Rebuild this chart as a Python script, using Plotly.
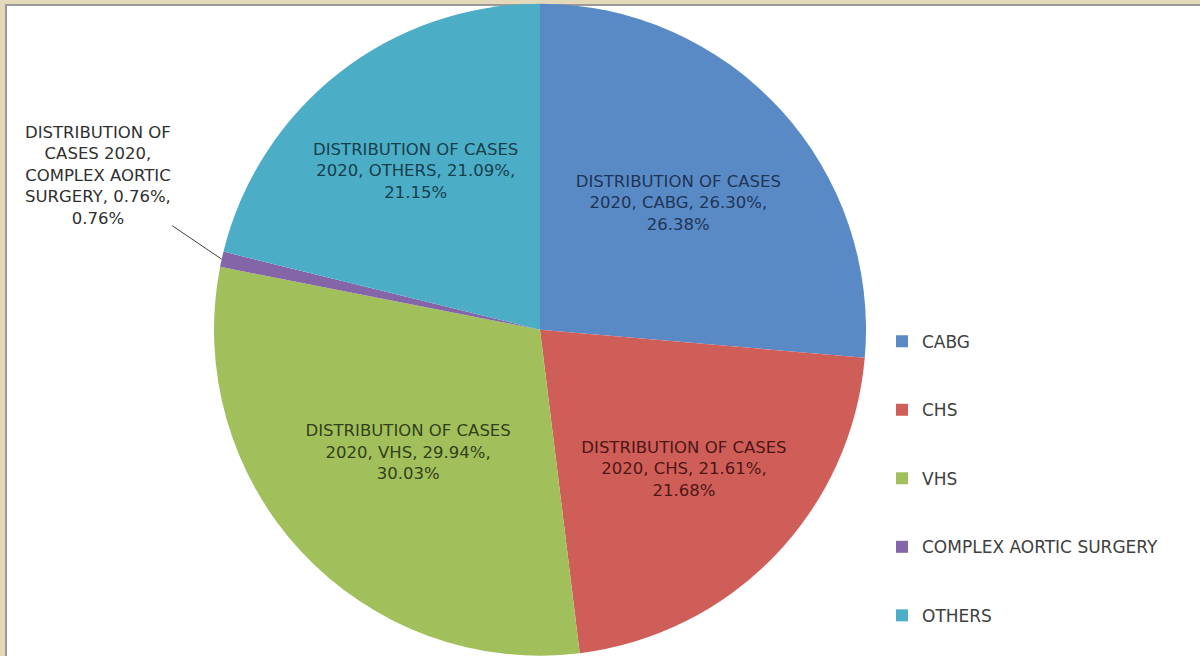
import plotly.graph_objects as go
import math

# ---- data ----
categories = ["CABG", "CHS", "VHS", "COMPLEX AORTIC SURGERY", "OTHERS"]
values = [26.30, 21.61, 29.94, 0.76, 21.09]          # series values (%)
shown_pct = ["26.38%", "21.68%", "30.03%", "0.76%", "21.15%"]  # share labels
series_name = "DISTRIBUTION OF CASES 2020"

colors = ["#5A8AC6", "#CF5E59", "#A1C05C", "#8466A8", "#4BADC6"]
text_colors = ["#1E3557", "#4E1614", "#33401A", "#2A2040", "#173F4C"]

W, H = 1200, 656
dom_x = [214 / W, 866 / W]
dom_y = [0.0, 0.995]

label_texts = []
for c, v, p in zip(categories, values, shown_pct):
    label_texts.append(f"DISTRIBUTION OF CASES<br>2020, {c}, {v:.2f}%,<br>{p}")

positions = ["inside", "inside", "inside", "none", "inside"]

legend_labels = [
    "\u00a0<br><span style='font-size:17px'>" + c + "</span><br>\u00a0" for c in categories
]

fig = go.Figure()
fig.add_trace(go.Pie(
    labels=legend_labels,
    values=values,
    text=label_texts,
    texttemplate="%{text}",
    textposition=positions,
    insidetextorientation="horizontal",
    insidetextfont=dict(family="DejaVu Sans", size=16.5, color=text_colors),
    marker=dict(colors=colors, line=dict(width=0)),
    sort=False,
    direction="clockwise",
    rotation=0,
    domain=dict(x=dom_x, y=dom_y),
    hoverinfo="label+value+percent",
))

# leader-line label for the tiny slice, arrow tip derived from the data
total = sum(values)
idx = 3
start = sum(values[:idx]) / total
mid = (start + values[idx] / total / 2) * 2 * math.pi
cx = (dom_x[0] + dom_x[1]) / 2
cy = (dom_y[0] + dom_y[1]) / 2
r_px = min((dom_x[1] - dom_x[0]) * W, (dom_y[1] - dom_y[0]) * H) / 2
tip_x = cx + r_px * math.sin(mid) / W
tip_y = cy + r_px * math.cos(mid) / H

fig.add_annotation(
    x=tip_x, y=tip_y, xref="paper", yref="paper",
    text=f"DISTRIBUTION OF<br>CASES 2020,<br>COMPLEX AORTIC<br>SURGERY, {values[idx]:.2f}%,<br>{shown_pct[idx]}",
    showarrow=True, arrowhead=0, arrowwidth=1, arrowcolor="#404040",
    ax=-124, ay=-84, standoff=0,
    font=dict(family="DejaVu Sans", size=16.5, color="#303030"),
    align="center",
)

# frame: beige surround with gray edge, white chart area
fig.add_shape(type="rect", xref="paper", yref="paper",
              x0=6 / W, x1=1.01, y0=-0.01, y1=1 - 5 / H,
              fillcolor="white", line=dict(color="#9A9A9A", width=2), layer="below")

fig.update_layout(
    width=W, height=H,
    margin=dict(l=0, r=0, t=0, b=0, autoexpand=False),
    paper_bgcolor="#E4DAB9",
    plot_bgcolor="white",
    showlegend=True,
    legend=dict(
        x=882 / W, y=1 - 302 / H, xanchor="left", yanchor="top",
        font=dict(family="DejaVu Sans", size=16.8, color="#404040"),
        bgcolor="rgba(0,0,0,0)",
        itemwidth=30,
    ),
)

fig.write_html(
    "out.html",
    config={"displayModeBar": False},
    post_script="document.body.style.margin='0';document.body.style.overflow='hidden';",
)
